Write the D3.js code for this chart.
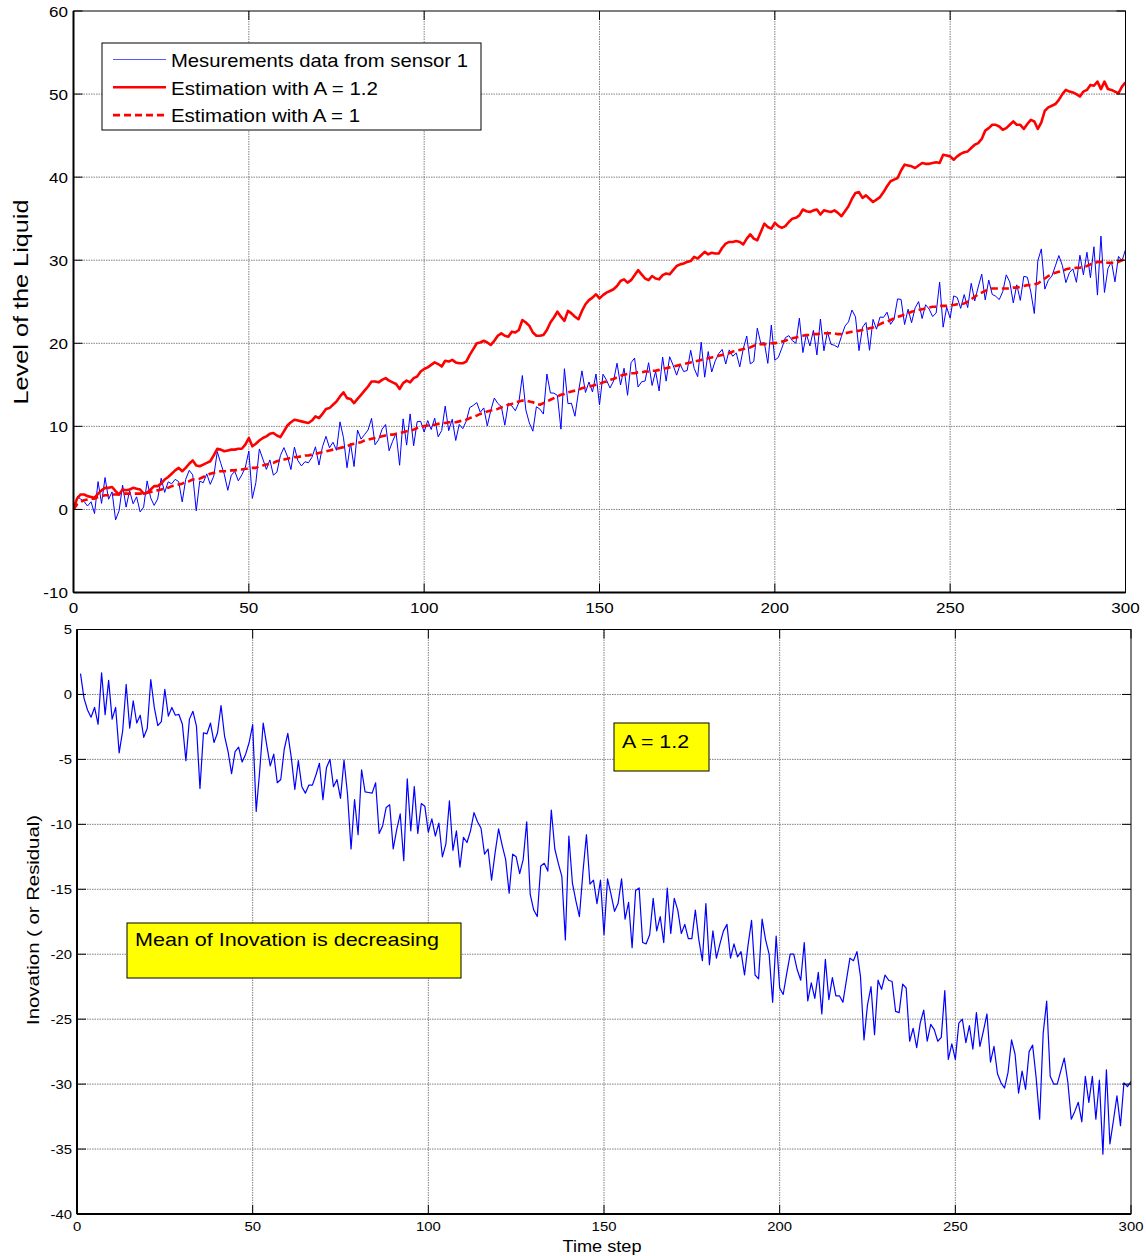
<!DOCTYPE html>
<html>
<head>
<meta charset="utf-8">
<script src="https://cdn.jsdelivr.net/npm/d3@7"></script>
<style>
  body { margin: 0; background: #fff; }
  svg { display: block; }
  text { font-family: "Liberation Sans", Arial, Helvetica, sans-serif; fill: #000; }
</style>
</head>
<body>
<script>
// ---- Data -------------------------------------------------------------
// Sensor readings, time steps 1..300
const measurements = [
  1.6, 1.26, 0.96, 0.41, 0.92, -0.5, 3.35, 0.73, 3.84, 1.22,
  2.12, -1.26, -0.16, 2.93, 0.28, 2.26, 0.68, 1.52, -0.3, 0.28,
  3.43, 1.4, 0.48, 1.26, 3.75, 2.05, 3.32, 3.08, 3.62, 3.34,
  0.9, 3.62, 4.7, 4.16, -0.16, 3.41, 3.21, 4.28, 3.02, 4.01,
  6.95, 5.56, 4.24, 2.3, 4.12, 4.58, 3.44, 4.16, 5.06, 7.03,
  1.32, 3.22, 7.28, 6.06, 4.82, 5.96, 4.12, 4.49, 6.48, 7.44,
  6.4, 4.8, 7.5, 5.86, 5.24, 5.74, 5.62, 6.28, 7.54, 5.34,
  7.55, 8.8, 7.42, 8.09, 7.12, 10.54, 8.62, 5.02, 7.99, 5.16,
  9.56, 8.46, 9.01, 9.56, 10.96, 7.78, 8.38, 9.66, 10.22, 7.06,
  8.2, 9.16, 5.32, 10.9, 7.74, 11.5, 7.66, 10.56, 10.6, 9.32,
  10.7, 9.62, 10.98, 8.74, 9.5, 12.44, 9.48, 10.86, 8.3, 10.24,
  9.72, 10.62, 12.26, 12.52, 12.86, 11.7, 12.22, 10.06, 11.92, 13.41,
  12.76, 12.38, 10.14, 12.78, 12.46, 11.88, 12.86, 16.12, 11.96, 10.4,
  9.42, 12.36, 12.08, 11.48, 16.3, 14.02, 14.0, 13.72, 9.66, 16.94,
  12.74, 12.78, 11.22, 14.14, 16.68, 14.08, 15.34, 14.14, 16.3, 12.58,
  16.28, 15.56, 14.62, 15.46, 17.6, 14.98, 17.0, 13.74, 17.66, 18.22,
  14.74, 15.36, 15.46, 17.66, 14.92, 16.62, 14.26, 18.34, 15.44, 18.38,
  17.36, 16.16, 17.46, 16.6, 16.72, 19.16, 16.98, 15.98, 20.14, 15.92,
  19.0, 16.54, 17.88, 18.76, 19.26, 17.5, 19.2, 18.44, 18.84, 17.16,
  19.34, 20.88, 17.52, 17.82, 21.82, 19.98, 20.08, 17.58, 22.2, 17.96,
  18.3, 19.42, 20.68, 20.92, 20.32, 20.0, 23.02, 18.88, 21.12, 19.68,
  21.56, 18.6, 22.92, 19.1, 21.4, 19.88, 19.76, 19.5, 20.84, 22.06,
  22.58, 24.0, 23.18, 19.12, 21.94, 22.5, 19.16, 22.88, 21.7, 23.16,
  23.12, 23.74, 22.28, 22.9, 25.34, 25.28, 22.26, 24.1, 22.48, 24.26,
  25.02, 22.98, 24.64, 24.12, 23.22, 23.64, 27.36, 21.94, 24.34, 23.02,
  25.7, 25.52, 24.2, 25.86, 24.3, 27.22, 25.1, 26.78, 28.32, 25.22,
  27.62, 25.88, 25.66, 25.26, 26.22, 28.24, 27.38, 24.86, 27.04, 25.16,
  28.06, 27.96, 26.18, 23.58, 29.94, 31.36, 26.52, 27.6, 28.08, 29.32,
  30.56, 29.36, 27.3, 28.5, 28.96, 27.34, 30.6, 28.24, 30.96, 27.9,
  31.62, 25.8, 32.9, 26.12, 29.0, 29.82, 27.4, 30.46, 29.92, 31.28
];

// Filter estimate with A = 1.2, time steps 0..300
const estimateA12 = [
  0, 1.3, 1.8, 1.8, 1.6, 1.5, 1.4, 1.9, 2.3, 2.6,
  2.6, 2.7, 2.2, 1.8, 2.4, 2.3, 2.4, 2.6, 2.5, 2.4,
  1.9, 2.0, 2.4, 2.8, 2.8, 3.1, 3.6, 3.9, 4.3, 4.7,
  5.0, 4.6, 5.0, 5.5, 5.9, 5.3, 5.2, 5.4, 5.6, 5.8,
  6.5, 7.3, 7.2, 7.0, 7.1, 7.2, 7.2, 7.3, 7.3, 7.8,
  8.6, 7.6, 7.9, 8.3, 8.6, 8.8, 9.1, 9.2, 8.9, 8.7,
  9.4, 10.1, 10.5, 10.8, 10.7, 10.6, 10.5, 10.4, 10.7, 11.2,
  11.0, 11.5, 12.1, 12.2, 12.6, 13.0, 13.6, 14.1, 13.4, 13.3,
  12.8, 13.3, 13.8, 14.3, 14.8, 15.4, 15.4, 15.3, 15.6, 15.8,
  15.5, 15.3, 15.1, 14.5, 15.2, 15.5, 15.3, 15.8, 16.0, 16.6,
  16.9, 17.1, 17.4, 17.7, 17.5, 17.2, 17.9, 17.8, 18.0, 17.7,
  17.6, 17.6, 17.8, 18.6, 19.3, 20.0, 20.1, 20.3, 20.1, 19.8,
  20.3, 20.9, 21.2, 20.9, 20.8, 21.4, 21.3, 21.6, 22.8, 22.5,
  22.1, 21.3, 20.9, 20.9, 21.0, 21.6, 22.5, 23.1, 23.8, 23.2,
  22.7, 23.9, 23.6, 23.2, 22.9, 23.9, 24.7, 25.2, 25.5, 25.9,
  25.4, 25.8, 26.1, 26.3, 26.5, 26.9, 27.5, 27.7, 27.3, 27.6,
  28.2, 28.8, 28.3, 27.8, 27.6, 28.1, 27.8, 27.7, 28.2, 28.4,
  28.3, 28.8, 29.3, 29.5, 29.6, 29.8, 29.9, 30.4, 30.2, 30.6,
  31.0, 30.7, 30.9, 30.8, 30.8, 31.5, 32.0, 32.2, 32.2, 32.3,
  32.2, 31.9, 32.6, 33.1, 32.6, 32.4, 33.4, 34.4, 34.0, 33.8,
  34.5, 34.1, 33.9, 34.1, 34.6, 35.0, 35.1, 35.4, 36.1, 35.9,
  35.8, 36.0, 36.1, 35.5, 36.0, 35.9, 35.8, 36.0, 35.7, 35.3,
  35.9, 36.5, 37.4, 38.1, 38.2, 37.5, 37.8, 37.4, 37.0, 37.3,
  37.6, 38.2, 38.9, 39.5, 39.7, 39.9, 40.8, 41.5, 41.4, 41.3,
  41.1, 41.4, 41.7, 41.6, 41.6, 41.7, 41.8, 41.7, 42.7, 42.6,
  42.5, 42.1, 42.5, 42.8, 43.0, 43.1, 43.5, 43.9, 44.1, 44.6,
  45.6, 45.9, 46.3, 46.3, 46.1, 45.7, 45.9, 46.3, 46.7, 46.3,
  46.3, 45.8, 46.4, 46.9, 46.7, 45.8, 46.6, 48.0, 48.4, 48.6,
  48.8, 49.3, 50.0, 50.5, 50.3, 50.2, 50.0, 49.7, 50.3, 50.5,
  51.1, 51.0, 51.5, 50.6, 51.5, 50.6, 50.5, 50.3, 50.1, 50.9,
  51.4
];

// Filter estimate with A = 1, time steps 0..300
const estimateA1 = [
  0, 0.6, 0.9, 1.1, 1.2, 1.3, 1.3, 1.5, 1.6, 1.7,
  1.7, 1.8, 1.8, 1.8, 1.9, 1.9, 1.9, 1.9, 1.9, 1.9,
  1.9, 2.0, 2.1, 2.2, 2.3, 2.4, 2.5, 2.6, 2.8, 2.9,
  3.0, 3.1, 3.3, 3.4, 3.6, 3.6, 3.7, 3.9, 4.1, 4.3,
  4.4, 4.5, 4.6, 4.6, 4.6, 4.7, 4.7, 4.8, 4.8, 4.9,
  4.9, 5.0, 5.0, 5.2, 5.3, 5.4, 5.5, 5.6, 5.8, 5.9,
  6.0, 6.1, 6.2, 6.3, 6.3, 6.4, 6.5, 6.5, 6.6, 6.7,
  6.8, 6.9, 7.0, 7.1, 7.2, 7.3, 7.4, 7.5, 7.6, 7.8,
  7.9, 8.0, 8.1, 8.3, 8.4, 8.5, 8.6, 8.7, 8.8, 8.9,
  9.0, 9.0, 9.1, 9.2, 9.3, 9.4, 9.5, 9.6, 9.8, 9.9,
  10.0, 10.1, 10.2, 10.2, 10.3, 10.4, 10.4, 10.5, 10.5, 10.5,
  10.6, 10.7, 10.8, 11.0, 11.1, 11.3, 11.5, 11.6, 11.8, 11.9,
  12.0, 12.1, 12.3, 12.4, 12.6, 12.7, 12.9, 13.0, 13.1, 13.1,
  13.0, 12.9, 12.7, 12.6, 12.8, 13.0, 13.2, 13.4, 13.6, 13.8,
  13.9, 14.1, 14.2, 14.3, 14.4, 14.6, 14.7, 14.8, 14.9, 15.0,
  15.1, 15.3, 15.4, 15.6, 15.7, 15.9, 16.1, 16.2, 16.3, 16.4,
  16.4, 16.5, 16.5, 16.6, 16.6, 16.7, 16.7, 16.8, 16.9, 17.0,
  17.1, 17.2, 17.3, 17.4, 17.5, 17.6, 17.7, 17.8, 17.9, 18.0,
  18.1, 18.2, 18.3, 18.4, 18.5, 18.6, 18.7, 18.8, 19.0, 19.1,
  19.2, 19.3, 19.4, 19.5, 19.7, 19.8, 19.9, 19.9, 19.9, 20.0,
  20.0, 20.1, 20.2, 20.3, 20.5, 20.6, 20.7, 20.8, 20.9, 21.0,
  21.0, 21.1, 21.1, 21.2, 21.2, 21.2, 21.2, 21.2, 21.1, 21.1,
  21.2, 21.3, 21.4, 21.5, 21.5, 21.6, 21.7, 21.8, 21.9, 22.1,
  22.3, 22.5, 22.6, 22.8, 23.0, 23.2, 23.3, 23.5, 23.6, 23.8,
  23.9, 24.0, 24.1, 24.2, 24.3, 24.4, 24.4, 24.5, 24.5, 24.5,
  24.6, 24.6, 24.7, 24.7, 24.8, 25.0, 25.3, 25.6, 25.9, 26.1,
  26.3, 26.5, 26.6, 26.6, 26.6, 26.6, 26.6, 26.6, 26.7, 26.7,
  26.8, 26.9, 27.0, 27.0, 27.1, 27.2, 27.5, 27.8, 28.1, 28.3,
  28.5, 28.6, 28.7, 28.9, 29.0, 29.0, 29.1, 29.1, 29.2, 29.3,
  29.5, 29.6, 29.8, 29.8, 29.7, 29.7, 29.7, 29.7, 29.8, 30.0,
  30.2
];

// Innovation (residual) of the A = 1.2 filter, time steps 1..300
const innovation = [
  1.6, -0.3, -1.2, -1.75, -1.0, -2.3, 1.67, -1.55, 1.08, -1.9,
  -1.0, -4.5, -2.8, 0.77, -2.6, -0.5, -2.2, -1.6, -3.3, -2.6,
  1.15, -1.0, -2.4, -2.1, 0.39, -1.67, -1.0, -1.6, -1.54, -2.3,
  -5.1, -1.9, -1.3, -2.44, -7.24, -2.95, -3.03, -2.2, -3.7, -2.95,
  -0.85, -3.2, -4.4, -6.1, -4.4, -4.06, -5.2, -4.6, -3.7, -2.33,
  -9.0, -5.9, -2.2, -3.9, -5.5, -4.6, -6.8, -6.55, -4.2, -3.0,
  -4.88, -7.32, -5.1, -7.1, -7.6, -6.98, -6.98, -6.2, -5.3, -8.1,
  -5.65, -5.0, -7.1, -6.55, -8.0, -5.06, -7.7, -11.9, -8.09, -10.8,
  -5.8, -7.5, -7.55, -7.6, -6.8, -10.7, -10.1, -8.7, -8.5, -11.9,
  -10.4, -9.2, -12.8, -6.5, -10.5, -7.1, -10.7, -8.4, -8.6, -10.6,
  -9.58, -10.9, -9.9, -12.5, -11.5, -8.2, -12.0, -10.5, -13.3, -11.0,
  -11.4, -10.5, -9.1, -9.8, -10.3, -12.3, -11.9, -14.3, -12.2, -10.35,
  -11.6, -12.7, -15.3, -12.3, -12.5, -13.8, -12.7, -9.8, -15.4, -16.6,
  -17.1, -13.2, -13.0, -13.6, -8.9, -11.9, -13.0, -14.0, -18.9, -10.9,
  -14.5, -15.9, -17.1, -13.7, -10.8, -14.6, -14.3, -16.1, -14.3, -18.5,
  -14.2, -15.4, -16.7, -16.1, -14.2, -17.3, -16.0, -19.5, -15.1, -14.9,
  -19.1, -19.2, -18.5, -15.7, -18.2, -17.1, -19.1, -14.9, -18.4, -15.7,
  -16.6, -18.4, -17.7, -18.8, -18.8, -16.6, -18.9, -20.5, -16.1, -20.8,
  -18.2, -20.3, -19.2, -18.2, -17.7, -20.3, -19.2, -20.2, -19.8, -21.6,
  -19.3, -17.4, -21.6, -21.9, -17.3, -18.9, -20.0, -23.7, -18.6, -22.6,
  -23.1, -21.5, -20.0, -20.0, -21.2, -22.0, -19.1, -23.6, -22.2, -23.4,
  -21.4, -24.6, -20.4, -23.5, -21.8, -23.2, -23.2, -23.7, -22.0, -20.3,
  -20.5, -19.8, -21.7, -26.6, -23.9, -22.5, -26.2, -22.0, -22.7, -21.6,
  -22.0, -22.1, -24.4, -24.5, -22.3, -22.6, -26.7, -25.7, -27.2, -25.3,
  -24.3, -26.7, -25.4, -25.8, -26.7, -26.4, -22.8, -28.1, -26.9, -28.1,
  -25.3, -25.0, -26.8, -25.5, -27.3, -24.5, -27.1, -25.9, -24.6, -28.3,
  -27.1, -29.2, -29.9, -30.3, -29.1, -26.6, -27.7, -30.7, -29.0, -30.4,
  -27.5, -27.0, -29.5, -32.7, -26.1, -23.6, -29.4, -30.0, -30.0, -29.0,
  -28.0, -29.8, -32.7, -32.1, -31.4, -32.9, -29.4, -31.4, -29.4, -32.7,
  -29.7, -35.4, -28.9, -34.6, -32.8, -30.9, -33.2, -29.9, -30.2, -29.8
];

const timeTicks = [0, 50, 100, 150, 200, 250, 300];
const levelTicks = [-10, 0, 10, 20, 30, 40, 50, 60];
const innovationTicks = [-40, -35, -30, -25, -20, -15, -10, -5, 0, 5];
const legendLabels = ["Mesurements data from sensor 1", "Estimation with A = 1.2", "Estimation with A = 1"];
const noteGain = "A = 1.2";
const noteTrend = "Mean of Inovation is decreasing";

// ---- Layout -----------------------------------------------------------
const W = 1146, H = 1256;
const FONT_STRETCH = 1.1;   // labels are drawn slightly wide, like the MATLAB export
const BLUE = "#0000ff", RED = "#ff0000";

const svg = d3.select("body").append("svg")
  .attr("width", W).attr("height", H)
  .attr("viewBox", `0 0 ${W} ${H}`);

svg.append("rect").attr("width", W).attr("height", H).attr("fill", "#fff");

const xLevel = d3.scaleLinear().domain([0, 300]).range([73.5, 1125.5]);
const yLevel = d3.scaleLinear().domain([-10, 60]).range([592.5, 11]);
const xInnov = d3.scaleLinear().domain([0, 300]).range([77, 1131]);
const yInnov = d3.scaleLinear().domain([-40, 5]).range([1214, 629.5]);

function stretchedText(parent, x, y, str, size, anchor) {
  parent.append("g")
    .attr("transform", `translate(${x},${y}) scale(${FONT_STRETCH},1)`)
    .append("text")
    .attr("text-anchor", anchor)
    .attr("font-size", size)
    .text(str);
}

// Grid, frame, inward ticks and tick labels of one MATLAB-style axes box
function drawAxes(id, x, y, xt, yt, tickFont, xLabelY, yLabelX) {
  const g = svg.append("g");
  const [l, r] = x.range();
  const [b, t] = y.range();

  // dotted grid
  const grid = g.append("g").attr("stroke", "#808080").attr("stroke-width", 1)
    .attr("stroke-dasharray", "1.5,1");
  xt.filter(v => v !== x.domain()[0] && v !== x.domain()[1]).forEach(v => {
    grid.append("line").attr("x1", x(v)).attr("x2", x(v)).attr("y1", t).attr("y2", b);
  });
  yt.filter(v => v !== y.domain()[0] && v !== y.domain()[1]).forEach(v => {
    grid.append("line").attr("x1", l).attr("x2", r).attr("y1", y(v)).attr("y2", y(v));
  });

  svg.append("clipPath").attr("id", id)
    .append("rect").attr("x", l).attr("y", t).attr("width", r - l).attr("height", b - t);
  return { g, l, r, t, b, finish: () => {
    const f = svg.append("g");
    f.append("rect").attr("x", l).attr("y", t).attr("width", r - l).attr("height", b - t)
      .attr("fill", "none").attr("stroke", "#000").attr("stroke-width", 1);
    f.append("line").attr("x1", l).attr("x2", l).attr("y1", t).attr("y2", b)
      .attr("stroke", "#000").attr("stroke-width", 2);
    f.append("line").attr("x1", l).attr("x2", r).attr("y1", b).attr("y2", b)
      .attr("stroke", "#000").attr("stroke-width", 2);
    const tk = f.append("g").attr("stroke", "#000").attr("stroke-width", 1);
    const len = 9;
    xt.forEach(v => {
      tk.append("line").attr("x1", x(v)).attr("x2", x(v)).attr("y1", b).attr("y2", b - len);
      tk.append("line").attr("x1", x(v)).attr("x2", x(v)).attr("y1", t).attr("y2", t + len);
    });
    yt.forEach(v => {
      tk.append("line").attr("x1", l).attr("x2", l + len).attr("y1", y(v)).attr("y2", y(v));
      tk.append("line").attr("x1", r).attr("x2", r - len).attr("y1", y(v)).attr("y2", y(v));
    });
    xt.forEach(v => stretchedText(f, x(v), xLabelY, String(v), tickFont, "middle"));
    yt.forEach(v => stretchedText(f, yLabelX, y(v) + tickFont * 0.36, String(v), tickFont, "end"));
  }};
}

// ---- Upper panel: liquid level ---------------------------------------
const upper = drawAxes("clip-level", xLevel, yLevel, timeTicks, levelTicks, 15.5, 612.5, 68);
const upperLines = svg.append("g").attr("clip-path", "url(#clip-level)").attr("fill", "none")
  .attr("stroke-linejoin", "round");

const measLine = d3.line().x((d, i) => xLevel(i + 1)).y(d => yLevel(d));
const estLine = d3.line().x((d, i) => xLevel(i)).y(d => yLevel(d));

upperLines.append("path").datum(measurements).attr("d", measLine)
  .attr("stroke", BLUE).attr("stroke-width", 1);
upperLines.append("path").datum(estimateA12).attr("d", estLine)
  .attr("stroke", RED).attr("stroke-width", 2.6);
upperLines.append("path").datum(estimateA1).attr("d", estLine)
  .attr("stroke", RED).attr("stroke-width", 2.6).attr("stroke-dasharray", "7,4");
upper.finish();

// y label of upper panel
svg.append("text")
  .attr("transform", "translate(28,302) rotate(-90)")
  .attr("text-anchor", "middle").attr("font-size", 20)
  .attr("textLength", 205).attr("lengthAdjust", "spacingAndGlyphs")
  .text("Level of the Liquid");

// legend
const legend = svg.append("g");
legend.append("rect").attr("x", 102).attr("y", 43).attr("width", 379).attr("height", 87)
  .attr("fill", "#fff").attr("stroke", "#000").attr("stroke-width", 1);
const legendStyles = [
  { w: 1, dash: null, color: "#5a5aff" },
  { w: 2.6, dash: null, color: RED },
  { w: 2.6, dash: "7,4", color: RED }
];
const legendWidths = [297, 207, 189];
legendLabels.forEach((lab, i) => {
  const cy = 59.5 + i * 27.8;
  const ln = legend.append("line").attr("x1", 113).attr("x2", 166).attr("y1", cy).attr("y2", cy)
    .attr("stroke", legendStyles[i].color).attr("stroke-width", legendStyles[i].w);
  if (legendStyles[i].dash) ln.attr("stroke-dasharray", legendStyles[i].dash);
  legend.append("text").attr("x", 171).attr("y", cy + 7.2).attr("font-size", 19)
    .attr("textLength", legendWidths[i]).attr("lengthAdjust", "spacingAndGlyphs")
    .text(lab);
});

// ---- Lower panel: innovation -----------------------------------------
const lower = drawAxes("clip-innov", xInnov, yInnov, timeTicks, innovationTicks, 13.5, 1231, 72);
const innovLine = d3.line().x((d, i) => xInnov(i + 1)).y(d => yInnov(d));
svg.append("g").attr("clip-path", "url(#clip-innov)")
  .append("path").datum(innovation).attr("d", innovLine)
  .attr("fill", "none").attr("stroke", BLUE).attr("stroke-width", 1.2)
  .attr("stroke-linejoin", "round");
lower.finish();

svg.append("text")
  .attr("transform", "translate(38.5,920) rotate(-90)")
  .attr("text-anchor", "middle").attr("font-size", 16.5)
  .attr("textLength", 210).attr("lengthAdjust", "spacingAndGlyphs")
  .text("Inovation ( or Residual)");

stretchedText(svg, 602, 1252, "Time step", 16.5, "middle");

// annotation boxes
const notes = svg.append("g");
notes.append("rect").attr("x", 614).attr("y", 723).attr("width", 95).attr("height", 48)
  .attr("fill", "#ffff00").attr("stroke", "#000").attr("stroke-width", 1);
notes.append("text").attr("x", 622).attr("y", 747.5).attr("font-size", 17.5)
  .attr("textLength", 67).attr("lengthAdjust", "spacingAndGlyphs").text(noteGain);

notes.append("rect").attr("x", 127).attr("y", 923).attr("width", 334).attr("height", 55)
  .attr("fill", "#ffff00").attr("stroke", "#000").attr("stroke-width", 1);
notes.append("text").attr("x", 135).attr("y", 946).attr("font-size", 19)
  .attr("textLength", 304).attr("lengthAdjust", "spacingAndGlyphs").text(noteTrend);
</script>
</body>
</html>
